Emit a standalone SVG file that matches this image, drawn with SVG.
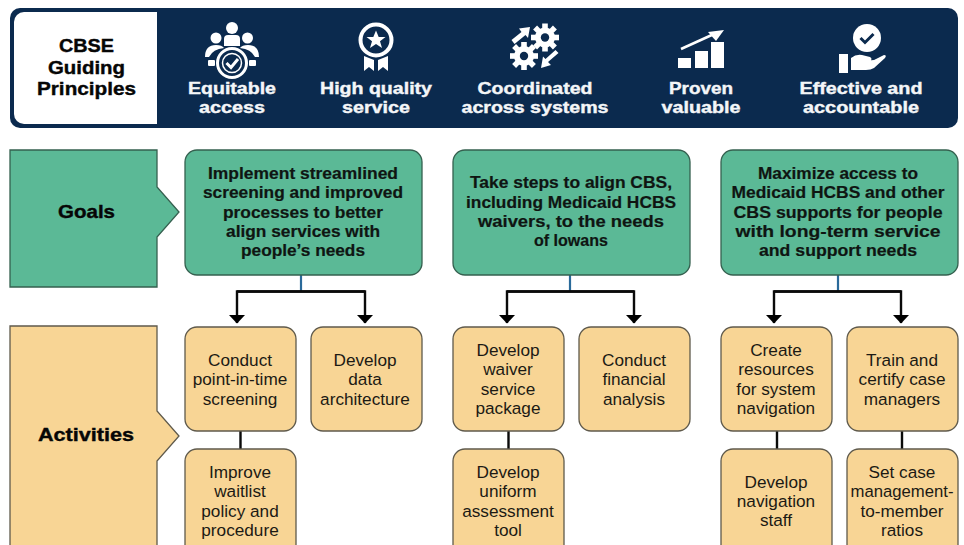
<svg xmlns="http://www.w3.org/2000/svg" width="964" height="545" viewBox="0 0 964 545">
<style>
text{font-family:"Liberation Sans",Arial,sans-serif;text-anchor:middle}
.w{font-weight:bold;font-size:16.5px;fill:#f4f6f8;stroke:#f4f6f8;stroke-width:.4}
.g{font-weight:bold;font-size:16.5px;fill:#0f1512;stroke:#0f1512;stroke-width:.2}
.a{font-size:17.2px;fill:#1c1a14}
.h{font-weight:bold;font-size:19px;fill:#060606;stroke:#060606;stroke-width:.4}
.gb{fill:#5bb996;stroke:#35604f;stroke-width:1.3}
.ab{fill:#f8d595;stroke:#5f5a4c;stroke-width:1.3}
.l{fill:none;stroke:#0a0a0a;stroke-width:2.4}
.s{fill:none;stroke:#2a6a9a;stroke-width:2.2}
.i{fill:#fff}
.is{fill:none;stroke:#fff}
</style>
<defs>
<marker id="ah" markerUnits="userSpaceOnUse" markerWidth="16" markerHeight="9" refX="8" refY="8" orient="0" viewBox="0 0 16 9"><path d="M0 0L16 0L8 8.500Z" fill="#000"/></marker>
<g id="gear"><circle r="10" fill="#fff"/><g fill="#fff"><rect x="-2.800" y="-14" width="5.600" height="5"/><rect x="-2.800" y="9" width="5.600" height="5"/><rect x="-14" y="-2.800" width="5" height="5.600"/><rect x="9" y="-2.800" width="5" height="5.600"/><g transform="rotate(45)"><rect x="-2.800" y="-14" width="5.600" height="5"/><rect x="-2.800" y="9" width="5.600" height="5"/><rect x="-14" y="-2.800" width="5" height="5.600"/><rect x="9" y="-2.800" width="5" height="5.600"/></g></g><circle r="4.200" fill="#0b2a4e"/></g>
</defs>
<g id="header">
<rect x="10" y="8" width="948" height="120" rx="10" fill="#0b2a4e"/>
<path d="M157 12H24A10 10 0 0 0 14 22V114A10 10 0 0 0 24 124H157Z" fill="#fff"/>
<text class="h" x="86.500" y="52" textLength="55" lengthAdjust="spacingAndGlyphs">CBSE</text>
<text class="h" x="86.500" y="74" textLength="77" lengthAdjust="spacingAndGlyphs">Guiding</text>
<text class="h" x="86.500" y="95" textLength="99" lengthAdjust="spacingAndGlyphs">Principles</text>
</g>
<g id="p-equitable">
<g class="i"><circle cx="232" cy="28" r="6"/><circle cx="216" cy="38" r="5.500"/><circle cx="247.500" cy="38" r="5.500"/><path d="M224 46V39Q224 35 228 35H236Q240 35 240 39V46Z"/><path d="M205 57Q205 45 216 45Q222 45 224 48Q213 49 209 57Z"/><path d="M259 57Q259 45 248 45Q242 45 240 48Q251 49 255 57Z"/><rect x="208" y="60" width="7" height="6" rx="1"/><rect x="249" y="60" width="7" height="6" rx="1"/></g>
<circle cx="232" cy="63" r="14.500" fill="#0b2a4e" stroke="#fff" stroke-width="3"/><circle cx="232" cy="63" r="9.500" fill="none" stroke="#fff" stroke-width="1.500"/><path d="M226.500 63L231 67.500L238 59" class="is" stroke-width="3"/>
<text class="w" x="232" y="94" textLength="88" lengthAdjust="spacingAndGlyphs">Equitable</text>
<text class="w" x="232" y="113" textLength="66" lengthAdjust="spacingAndGlyphs">access</text>
</g>
<g id="p-quality">
<circle cx="376" cy="40" r="15.500" class="is" stroke-width="4"/>
<path class="i" d="M376 30.500L378.700 37H385.500L380 41.200L382 48L376 44L370 48L372 41.200L366.500 37H373.300Z"/>
<path class="i" d="M364 56L374 60V71L369 67L364 71ZM388 56L378 60V71L383 67L388 71Z"/>
<text class="w" x="376" y="94" textLength="112" lengthAdjust="spacingAndGlyphs">High quality</text>
<text class="w" x="376" y="113" textLength="68" lengthAdjust="spacingAndGlyphs">service</text>
</g>
<g id="p-coordinated">
<use href="#gear" x="545" y="37.500"/><use href="#gear" x="524" y="56"/>
<path class="i" d="M511.500 40L521.500 32L519 28.500L530 27L528 38L525.500 35L514.500 44Z"/>
<path class="i" d="M558.500 53L548 62L551 65L541 68L543 56.500L545.500 59L555.500 50Z"/>
<text class="w" x="535" y="94" textLength="115" lengthAdjust="spacingAndGlyphs">Coordinated</text>
<text class="w" x="535" y="113" textLength="147" lengthAdjust="spacingAndGlyphs">across systems</text>
</g>
<g id="p-proven">
<rect class="i" x="678" y="58" width="13" height="10"/><rect class="i" x="695" y="51" width="13" height="17"/><rect class="i" x="711" y="42" width="13" height="26"/>
<path d="M681 49L714 34" class="is" stroke-width="2.500"/><path class="i" d="M708 32L724 30L716 41Z"/>
<text class="w" x="701" y="94" textLength="64" lengthAdjust="spacingAndGlyphs">Proven</text>
<text class="w" x="701" y="113" textLength="79" lengthAdjust="spacingAndGlyphs">valuable</text>
</g>
<g id="p-effective">
<circle cx="867" cy="38" r="14" class="i"/><path d="M860.500 38L865 42.500L873.500 34" fill="none" stroke="#0b2a4e" stroke-width="3"/>
<rect class="i" x="839" y="54" width="9" height="19"/>
<path class="i" d="M851 58Q856 54 862 55L870 57Q873 59 870 61H863L874 60L884 55Q887 55 885 58L874 68Q871 70 866 70H851Z"/>
<text class="w" x="861" y="94" textLength="123" lengthAdjust="spacingAndGlyphs">Effective and</text>
<text class="w" x="861" y="113" textLength="116" lengthAdjust="spacingAndGlyphs">accountable</text>
</g>
<g id="connectors">
<path class="s" d="M301 275V291M570 275V291M838 275V291"/>
<path class="l" d="M237 291.500H365V323" marker-end="url(#ah)"/>
<path class="l" d="M365 291.500H237V323" marker-end="url(#ah)"/>
<path class="l" d="M507 291.500H634V323" marker-end="url(#ah)"/>
<path class="l" d="M634 291.500H507V323" marker-end="url(#ah)"/>
<path class="l" d="M774 291.500H901V323" marker-end="url(#ah)"/>
<path class="l" d="M901 291.500H774V323" marker-end="url(#ah)"/>
<path class="l" d="M240.500 431V449M508.500 431V449M777 431V449M902 431V449" stroke-width="2"/>
</g>
<g id="goals-label"><path class="gb" d="M10 150H157V187L179 212L157 237V287H10Z"/><text x="86.500" y="218" class="h" textLength="57" lengthAdjust="spacingAndGlyphs">Goals</text></g>
<g id="activities-label"><path class="ab" d="M10 326H157V411L179 436L157 461V560H10Z"/><text x="86" y="441" class="h" textLength="96" lengthAdjust="spacingAndGlyphs">Activities</text></g>
<g id="goal1"><rect class="gb" x="185" y="150" width="237" height="125" rx="12"/>
<text class="g" x="303" y="179" textLength="190" lengthAdjust="spacingAndGlyphs">Implement streamlined</text>
<text class="g" x="303" y="198" textLength="200" lengthAdjust="spacingAndGlyphs">screening and improved</text>
<text class="g" x="303" y="218" textLength="160" lengthAdjust="spacingAndGlyphs">processes to better</text>
<text class="g" x="303" y="237" textLength="154" lengthAdjust="spacingAndGlyphs">align services with</text>
<text class="g" x="303" y="256" textLength="124" lengthAdjust="spacingAndGlyphs">people’s needs</text></g>
<g id="goal2"><rect class="gb" x="453" y="150" width="237" height="125" rx="12"/>
<text class="g" x="571" y="188" textLength="202" lengthAdjust="spacingAndGlyphs">Take steps to align CBS,</text>
<text class="g" x="571" y="208" textLength="210" lengthAdjust="spacingAndGlyphs">including Medicaid HCBS</text>
<text class="g" x="571" y="227" textLength="186" lengthAdjust="spacingAndGlyphs">waivers, to the needs</text>
<text class="g" x="571" y="246" textLength="74" lengthAdjust="spacingAndGlyphs">of Iowans</text></g>
<g id="goal3"><rect class="gb" x="721" y="150" width="237" height="125" rx="12"/>
<text class="g" x="838" y="179" textLength="160" lengthAdjust="spacingAndGlyphs">Maximize access to</text>
<text class="g" x="838" y="198" textLength="213" lengthAdjust="spacingAndGlyphs">Medicaid HCBS and other</text>
<text class="g" x="838" y="218" textLength="209" lengthAdjust="spacingAndGlyphs">CBS supports for people</text>
<text class="g" x="838" y="237" textLength="205" lengthAdjust="spacingAndGlyphs">with long-term service</text>
<text class="g" x="838" y="256" textLength="158" lengthAdjust="spacingAndGlyphs">and support needs</text></g>
<g id="a1"><rect class="ab" x="185" y="327" width="111" height="104" rx="12"/><text class="a"><tspan x="240" y="366">Conduct</tspan><tspan x="240" y="385">point-in-time</tspan><tspan x="240" y="405">screening</tspan></text></g>
<g id="a2"><rect class="ab" x="311" y="327" width="111" height="104" rx="12"/><text class="a"><tspan x="365" y="366">Develop</tspan><tspan x="365" y="385">data</tspan><tspan x="365" y="405">architecture</tspan></text></g>
<g id="a3"><rect class="ab" x="185" y="449" width="111" height="110" rx="12"/><text class="a"><tspan x="240" y="478">Improve</tspan><tspan x="240" y="497">waitlist</tspan><tspan x="240" y="517">policy and</tspan><tspan x="240" y="536">procedure</tspan></text></g>
<g id="a4"><rect class="ab" x="453" y="327" width="111" height="104" rx="12"/><text class="a"><tspan x="508" y="356">Develop</tspan><tspan x="508" y="375">waiver</tspan><tspan x="508" y="395">service</tspan><tspan x="508" y="414">package</tspan></text></g>
<g id="a5"><rect class="ab" x="579" y="327" width="111" height="104" rx="12"/><text class="a"><tspan x="634" y="366">Conduct</tspan><tspan x="634" y="385">financial</tspan><tspan x="634" y="405">analysis</tspan></text></g>
<g id="a6"><rect class="ab" x="453" y="449" width="111" height="110" rx="12"/><text class="a"><tspan x="508" y="478">Develop</tspan><tspan x="508" y="497">uniform</tspan><tspan x="508" y="517">assessment</tspan><tspan x="508" y="536">tool</tspan></text></g>
<g id="a7"><rect class="ab" x="721" y="327" width="111" height="104" rx="12"/><text class="a"><tspan x="776" y="356">Create</tspan><tspan x="776" y="375">resources</tspan><tspan x="776" y="395">for system</tspan><tspan x="776" y="414">navigation</tspan></text></g>
<g id="a8"><rect class="ab" x="847" y="327" width="111" height="104" rx="12"/><text class="a"><tspan x="902" y="366">Train and</tspan><tspan x="902" y="385">certify case</tspan><tspan x="902" y="405">managers</tspan></text></g>
<g id="a9"><rect class="ab" x="721" y="449" width="111" height="110" rx="12"/><text class="a"><tspan x="776" y="488">Develop</tspan><tspan x="776" y="507">navigation</tspan><tspan x="776" y="526">staff</tspan></text></g>
<g id="a10"><rect class="ab" x="847" y="449" width="111" height="110" rx="12"/><text class="a" x="902" y="478">Set case</text><text class="a" x="902" y="497" textLength="103" lengthAdjust="spacingAndGlyphs">management-</text><text class="a" x="902" y="517">to-member</text><text class="a" x="902" y="536">ratios</text></g>
</svg>
